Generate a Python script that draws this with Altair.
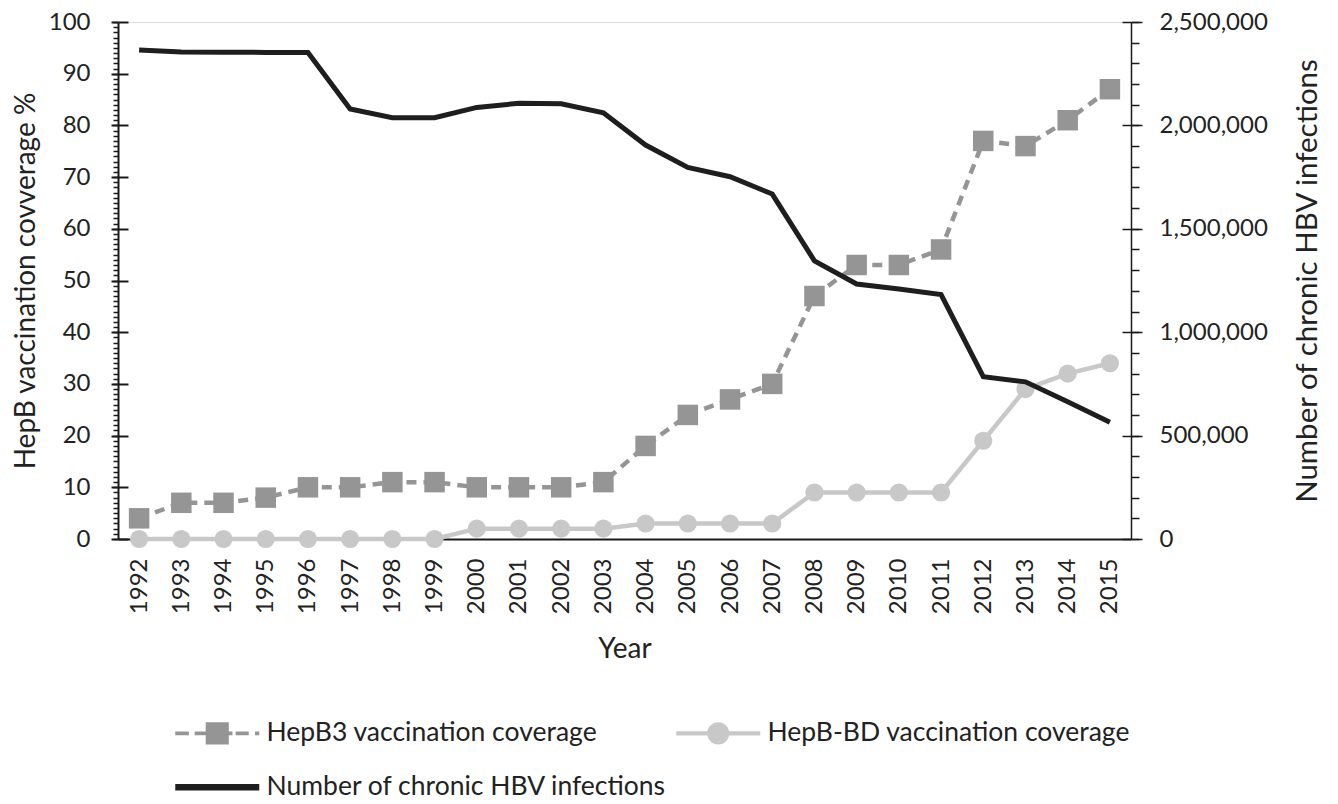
import altair as alt
import pandas as pd

# ---------------- data ----------------
years = [str(y) for y in range(1992, 2016)]
hepb3 = [4, 7, 7, 8, 10, 10, 11, 11, 10, 10, 10, 11, 18, 24, 27, 30, 47, 53, 53, 56, 77, 76, 81, 87]
hepb_bd = [0, 0, 0, 0, 0, 0, 0, 0, 2, 2, 2, 2, 3, 3, 3, 3, 9, 9, 9, 9, 19, 29, 32, 34]
hbv = [2365000, 2355000, 2354000, 2353000, 2353000, 2079000, 2037000, 2037000, 2087000, 2107000,
       2105000, 2061000, 1905000, 1797000, 1752000, 1668000, 1345000, 1233000, 1209000, 1182000,
       785000, 760000, 664000, 565000]

series_names = ["HepB3 vaccination coverage", "HepB-BD vaccination coverage", "Number of chronic HBV infections"]
series_colors = ["#959595", "#c8c8c8", "#1e1e1e"]

left_ticks = list(range(0, 101, 10))
left_minor = list(range(0, 101, 1))
right_ticks = list(range(0, 2500001, 500000))
right_minor = list(range(0, 2500001, 100000))

df = pd.DataFrame({"Year": years, "HepB3": hepb3, "BD": hepb_bd, "HBV": hbv})

FONT = "Lato"
INK = "#1a1a1a"
TXT = "#222222"
TITLE_SIZE = 28

# legend symbol paths (line + marker)
p_hepb3 = ("M-4,-0.19 H-2.7 V0.19 H-4 Z "
           "M-2.15,-0.19 H-1.1 V0.19 H-2.15 Z "
           "M-1.1,-1.05 H1.1 V1.05 H-1.1 Z "
           "M1.1,-0.19 H1.45 V0.19 H1.1 Z "
           "M1.75,-0.19 H3.0 V0.19 H1.75 Z "
           "M3.6,-0.19 H4 V0.19 H3.6 Z")
p_bd = ("M-4,-0.2 H4 V0.2 H-4 Z "
        "M-1.05,0 A1.05,1.05 0 1,1 1.05,0 A1.05,1.05 0 1,1 -1.05,0 Z")
p_hbv = "M-4,-0.3 H4 V0.3 H-4 Z"
legend_paths = [p_hepb3, p_bd, p_hbv]

# ---------------- encodings ----------------
x_enc = alt.X(
    "Year:O",
    sort=years,
    scale=alt.Scale(type="point", padding=0.5),
    axis=alt.Axis(
        title="Year", labelAngle=-90, labelAlign="right", labelBaseline="middle",
        labelPadding=19, ticks=False, tickSize=0, domainColor=INK, domainWidth=2,
        labelFontSize=24, titleFontSize=TITLE_SIZE, titlePadding=22, labelColor=TXT, titleColor=TXT,
        labelFont=FONT, titleFont=FONT, titleFontWeight="normal", grid=False,
    ),
)

left_scale = alt.Scale(domain=[0, 100], nice=False, zero=True)
right_scale = alt.Scale(domain=[0, 2500000], nice=False, zero=True)

left_axis = alt.Axis(
    orient="left", values=left_ticks, title="HepB vaccination covverage %",
    tickSize=7, tickWidth=2, tickColor=INK, domainColor=INK, domainWidth=2,
    labelPadding=21, labelFontSize=24, labelFont=FONT, labelColor=TXT,
    titleFontSize=TITLE_SIZE, titleFont=FONT, titleColor=TXT, titleFontWeight="normal", titlePadding=8,
    grid=False,
)
left_minor_axis = alt.Axis(orient="left", values=left_minor, title=None, labels=False, domain=False,
                           tickSize=5, tickWidth=1.5, tickColor=INK, grid=False)
left_inner_axis = alt.Axis(orient="left", values=left_ticks, title=None, labels=False, domain=False,
                           tickSize=10, tickWidth=2, tickColor=INK, offset=-10, grid=False)

right_axis = alt.Axis(
    orient="right", values=right_ticks, format=",", labelExpr="format(datum.value, ',')",
    title="Number of chronic HBV  infections",
    tickSize=11, tickWidth=1.5, tickColor=INK, domainColor=INK, domainWidth=1.5,
    labelPadding=17, labelFontSize=24, labelFont=FONT, labelColor=TXT,
    titleFontSize=29.5, titleFont=FONT, titleColor=TXT, titleFontWeight="normal",
    titleAngle=270, titleBaseline="top", titlePadding=26, grid=False,
)
right_minor_axis = alt.Axis(orient="right", values=right_minor, title=None, labels=False, domain=False,
                            tickSize=8, tickWidth=1.5, tickColor=INK, grid=False)
right_inner_axis = alt.Axis(orient="right", values=right_ticks, title=None, labels=False, domain=False,
                            tickSize=9, tickWidth=1.5, tickColor=INK, offset=-9, grid=False)

legend_obj = alt.Legend(
    title=None, orient="none", legendX=86, legendY=698, direction="horizontal", columns=2,
    symbolSize=441, symbolStrokeWidth=0, symbolOpacity=1, labelFontSize=26.5, labelFont=FONT,
    labelColor=TXT, labelOffset=36, labelLimit=0, columnPadding=8, rowPadding=27, padding=0,
)

base = alt.Chart(df)

hepb3_line = base.mark_line(color=series_colors[0], strokeWidth=4.5, strokeDash=[10, 7]).encode(
    x=x_enc, y=alt.Y("HepB3:Q", scale=left_scale, axis=left_axis))
hepb3_pts = base.mark_point(shape="square", filled=True, size=420, color=series_colors[0], opacity=1).encode(
    x=x_enc, y=alt.Y("HepB3:Q", scale=left_scale, axis=None))
bd_line = base.mark_line(color=series_colors[1], strokeWidth=4.5).encode(
    x=x_enc, y=alt.Y("BD:Q", scale=left_scale, axis=None))
bd_pts = base.mark_point(shape="circle", filled=True, size=330, color=series_colors[1], opacity=1).encode(
    x=x_enc, y=alt.Y("BD:Q", scale=left_scale, axis=None))

legend_layer = base.transform_calculate(series="'" + series_names[0] + "'").transform_filter("false").mark_point(
    filled=True, opacity=1, size=441).encode(
    x=x_enc, y=alt.Y("HepB3:Q", scale=left_scale, axis=None),
    color=alt.Color("series:N", scale=alt.Scale(domain=series_names, range=series_colors), legend=legend_obj),
    shape=alt.Shape("series:N", scale=alt.Scale(domain=series_names, range=legend_paths), legend=legend_obj),
)

ghost_lminor = base.mark_line(strokeOpacity=0).encode(
    x=x_enc, y=alt.Y("HepB3:Q", scale=left_scale, axis=left_minor_axis))
ghost_linner = base.mark_line(strokeOpacity=0).encode(
    x=x_enc, y=alt.Y("HepB3:Q", scale=left_scale, axis=left_inner_axis))

hbv_line = base.mark_line(color=series_colors[2], strokeWidth=5).encode(
    x=x_enc, y=alt.Y("HBV:Q", scale=right_scale, axis=right_axis))
ghost_rminor = base.mark_line(strokeOpacity=0).encode(
    x=x_enc, y=alt.Y("HBV:Q", scale=right_scale, axis=right_minor_axis))
ghost_rinner = base.mark_line(strokeOpacity=0).encode(
    x=x_enc, y=alt.Y("HBV:Q", scale=right_scale, axis=right_inner_axis))

chart = alt.layer(
    hepb3_line, hepb3_pts, bd_line, bd_pts, legend_layer,
    ghost_lminor, ghost_linner, hbv_line, ghost_rminor, ghost_rinner
).resolve_scale(y="independent").properties(
    width=1013, height=517,
    padding={"left": 110, "top": 14, "right": 198, "bottom": 266},
    autosize=alt.AutoSizeParams(type="none"),
).configure_view(stroke=None).configure(background="white")

chart.save("out.html", embed_options={"renderer": "svg", "actions": False})
